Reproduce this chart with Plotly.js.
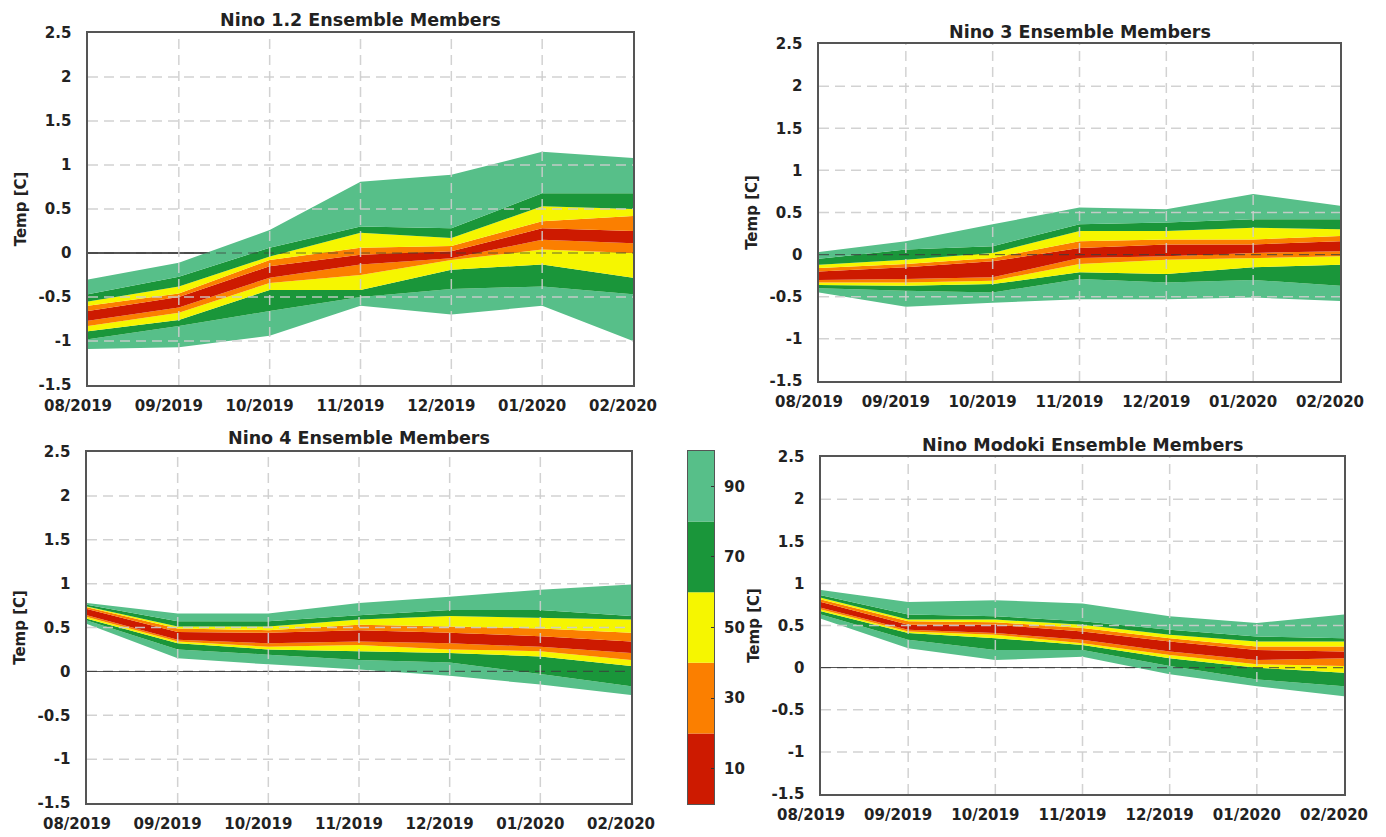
<!DOCTYPE html>
<html>
<head>
<meta charset="utf-8">
<script src="https://cdn.plot.ly/plotly-3.0.1.min.js"></script>
<style>html,body{margin:0;padding:0;background:#fff;}#chart{width:1386px;height:837px;}</style>
</head>
<body>
<div id="chart"></div>
<script>
// ---------- data ----------
const months = ['08/2019','09/2019','10/2019','11/2019','12/2019','01/2020','02/2020'];
const yTickVals = [-1.5,-1,-0.5,0,0.5,1,1.5,2,2.5];
const yTickText = ['-1.5','-1','-0.5','0','0.5','1','1.5','2','2.5'];
const panelTitles = ['Nino 1.2 Ensemble Members','Nino 3 Ensemble Members','Nino 4 Ensemble Members','Nino Modoki Ensemble Members'];

// Nino 1.2 percentile bounds
const n12_p0   = [-1.09,-1.07,-0.94,-0.60,-0.70,-0.60,-1.00];
const n12_p10  = [-0.98,-0.83,-0.66,-0.50,-0.41,-0.38,-0.47];
const n12_p20  = [-0.89,-0.76,-0.42,-0.42,-0.19,-0.13,-0.28];
const n12_p30  = [-0.83,-0.68,-0.34,-0.25,-0.08, 0.04, 0.00];
const n12_p40  = [-0.77,-0.62,-0.28,-0.13,-0.06, 0.15, 0.11];
const n12_p60  = [-0.66,-0.50,-0.15,-0.02, 0.02, 0.28, 0.25];
const n12_p70  = [-0.60,-0.46,-0.08, 0.06, 0.08, 0.36, 0.42];
const n12_p80  = [-0.55,-0.38,-0.04, 0.23, 0.17, 0.53, 0.50];
const n12_p90  = [-0.47,-0.27, 0.06, 0.30, 0.28, 0.68, 0.68];
const n12_p100 = [-0.30,-0.11, 0.26, 0.81, 0.89, 1.15, 1.08];

// Nino 3
const n3_p0   = [-0.45,-0.62,-0.57,-0.53,-0.53,-0.51,-0.55];
const n3_p10  = [-0.40,-0.43,-0.45,-0.29,-0.33,-0.30,-0.37];
const n3_p20  = [-0.36,-0.37,-0.35,-0.21,-0.23,-0.15,-0.12];
const n3_p30  = [-0.33,-0.33,-0.31,-0.11,-0.06,-0.04,-0.02];
const n3_p40  = [-0.30,-0.29,-0.27,-0.04,-0.02, 0.02, 0.04];
const n3_p60  = [-0.20,-0.15,-0.08, 0.08, 0.12, 0.12, 0.16];
const n3_p70  = [-0.16,-0.11,-0.04, 0.16, 0.18, 0.18, 0.22];
const n3_p80  = [-0.12,-0.06, 0.02, 0.28, 0.28, 0.32, 0.30];
const n3_p90  = [-0.05, 0.06, 0.10, 0.36, 0.38, 0.42, 0.42];
const n3_p100 = [ 0.03, 0.16, 0.36, 0.56, 0.54, 0.72, 0.58];

// Nino 4
const n4_p0   = [0.54, 0.15, 0.08, 0.02,-0.05,-0.15,-0.27];
const n4_p10  = [0.58, 0.25, 0.19, 0.13, 0.10,-0.03,-0.17];
const n4_p20  = [0.60, 0.32, 0.25, 0.23, 0.21, 0.17, 0.06];
const n4_p30  = [0.62, 0.34, 0.28, 0.30, 0.25, 0.23, 0.13];
const n4_p40  = [0.64, 0.36, 0.32, 0.34, 0.32, 0.28, 0.21];
const n4_p60  = [0.71, 0.45, 0.44, 0.47, 0.44, 0.40, 0.34];
const n4_p70  = [0.73, 0.49, 0.47, 0.53, 0.51, 0.49, 0.44];
const n4_p80  = [0.74, 0.51, 0.51, 0.59, 0.63, 0.61, 0.59];
const n4_p90  = [0.76, 0.57, 0.57, 0.64, 0.70, 0.70, 0.63];
const n4_p100 = [0.78, 0.66, 0.66, 0.78, 0.85, 0.93, 0.99];

// Nino Modoki
const nm_p0   = [0.58, 0.23, 0.09, 0.13,-0.08,-0.22,-0.34];
const nm_p10  = [0.63, 0.33, 0.21, 0.21, 0.02,-0.14,-0.22];
const nm_p20  = [0.67, 0.41, 0.35, 0.27, 0.11, 0.00,-0.06];
const nm_p30  = [0.69, 0.43, 0.39, 0.29, 0.15, 0.04, 0.02];
const nm_p40  = [0.71, 0.45, 0.41, 0.33, 0.19, 0.09, 0.11];
const nm_p60  = [0.78, 0.51, 0.51, 0.43, 0.31, 0.21, 0.19];
const nm_p70  = [0.81, 0.55, 0.54, 0.47, 0.35, 0.25, 0.25];
const nm_p80  = [0.83, 0.57, 0.57, 0.51, 0.39, 0.31, 0.31];
const nm_p90  = [0.86, 0.63, 0.61, 0.55, 0.45, 0.37, 0.35];
const nm_p100 = [0.92, 0.78, 0.80, 0.76, 0.61, 0.53, 0.63];

// colour bar
const cbEdges  = [0, 20, 40, 60, 80, 100];
const cbLevels = [10, 30, 50, 70, 90];
const cbLabels = ['10', '30', '50', '70', '90'];

// ---------- styles ----------
const C_LG = '#57bf89', C_DG = '#1a963a', C_Y = '#f6f600', C_O = '#fb7f00', C_R = '#cd1a00';
const bandColors = [C_LG, C_DG, C_Y, C_O, C_R, C_O, C_Y, C_DG, C_LG];
const cbColors = [C_R, C_O, C_Y, C_DG, C_LG];
const FONT = 'DejaVu Sans';
const W = 1386, H = 837;
// pixel boxes [left, right, top, bottom]
const boxes = [[88,633,33,385],[819,1340,44,381],[87,631,452,803],[821,1344,457,794]];
const titleY = [20, 32, 438, 445];
const cbBox = [688,714,451,804];

const panels = [
  [n12_p0,n12_p10,n12_p20,n12_p30,n12_p40,n12_p60,n12_p70,n12_p80,n12_p90,n12_p100],
  [n3_p0,n3_p10,n3_p20,n3_p30,n3_p40,n3_p60,n3_p70,n3_p80,n3_p90,n3_p100],
  [n4_p0,n4_p10,n4_p20,n4_p30,n4_p40,n4_p60,n4_p70,n4_p80,n4_p90,n4_p100],
  [nm_p0,nm_p10,nm_p20,nm_p30,nm_p40,nm_p60,nm_p70,nm_p80,nm_p90,nm_p100]
];

const traces = [];
const shapes = [];
const annotations = [];
const layout = {
  width: W, height: H,
  margin: {l:0, r:0, t:0, b:0},
  paper_bgcolor: '#fff', plot_bgcolor: '#fff',
  showlegend: false,
  font: {family: FONT, size: 15, color: '#222', weight: 'bold'}
};

panels.forEach((bounds, i) => {
  const n = i + 1;
  const xa = 'x' + (n === 1 ? '' : n), ya = 'y' + (n === 1 ? '' : n);
  const b = boxes[i];
  bounds.forEach((arr, k) => {
    traces.push({
      type: 'scatter', mode: 'lines', x: months, y: arr,
      xaxis: xa, yaxis: ya,
      line: {width: 0, color: 'rgba(0,0,0,0)'},
      fill: k === 0 ? 'none' : 'tonexty',
      fillcolor: k === 0 ? undefined : bandColors[k - 1],
      hoverinfo: 'skip'
    });
  });
  layout['xaxis' + (n === 1 ? '' : n)] = {
    domain: [b[0] / W, b[1] / W], anchor: ya,
    type: 'category', range: [0, months.length - 1],
    tickvals: months, ticktext: months,
    showgrid: false, zeroline: false,
    showline: true, mirror: true, linecolor: '#555', linewidth: 1.6,
    ticks: '', ticklabelstandoff: 6, ticklabelshift: -10,
    tickfont: {family: FONT, size: 15, color: '#222', weight: 'bold'}
  };
  layout['yaxis' + (n === 1 ? '' : n)] = {
    domain: [1 - b[3] / H, 1 - b[2] / H], anchor: xa,
    range: [-1.5, 2.5], tickvals: yTickVals, ticktext: yTickText,
    showgrid: false, zeroline: true, zerolinecolor: '#555', zerolinewidth: 1.2,
    showline: true, mirror: true, linecolor: '#555', linewidth: 1.6,
    ticks: '', ticklabelstandoff: 12,
    tickfont: {family: FONT, size: 15, color: '#222', weight: 'bold'},
    title: {text: 'Temp [C]', standoff: 8, font: {family: FONT, size: 15, color: '#222', weight: 'bold'}}
  };
  // dashed grid lines above the fills
  yTickVals.forEach(v => {
    if (v === yTickVals[0] || v === yTickVals[yTickVals.length - 1]) return;
    shapes.push({
      type: 'line', layer: 'above', xref: xa + ' domain', yref: ya,
      x0: 0, x1: 1, y0: v, y1: v,
      line: {color: v === 0 ? 'rgba(60,60,60,0.75)' : 'rgba(205,205,205,0.9)', width: v === 0 ? 1.2 : 1.5, dash: '10px,6px'}
    });
  });
  months.forEach((m, k) => {
    if (k === 0 || k === months.length - 1) return;
    shapes.push({
      type: 'line', layer: 'above', xref: xa, yref: ya + ' domain',
      x0: m, x1: m, y0: 0, y1: 1,
      line: {color: 'rgba(205,205,205,0.9)', width: 1.5, dash: '10px,6px'}
    });
  });
  annotations.push({
    text: panelTitles[i], showarrow: false,
    xref: xa + ' domain', x: 0.5, xanchor: 'center',
    yref: 'paper', y: 1 - titleY[i] / H, yanchor: 'middle',
    font: {family: FONT, size: 17.5, color: '#222', weight: 'bold'}
  });
});

// colour bar as stacked bar segments on its own axis
traces.push({
  type: 'bar', xaxis: 'x5', yaxis: 'y5',
  x: cbLevels.map(() => 0),
  y: cbEdges.slice(1).map((e, k) => e - cbEdges[k]),
  base: cbEdges.slice(0, -1),
  width: 1,
  marker: {color: cbColors, line: {width: 0}},
  hoverinfo: 'skip'
});
layout.xaxis5 = {
  domain: [cbBox[0] / W, cbBox[1] / W], anchor: 'y5', range: [-0.5, 0.5],
  showticklabels: false, ticks: '', showgrid: false, zeroline: false,
  showline: true, mirror: true, linecolor: '#555', linewidth: 1, fixedrange: true
};
layout.yaxis5 = {
  domain: [1 - cbBox[3] / H, 1 - cbBox[2] / H], anchor: 'x5', side: 'right',
  range: [0, 100], tickvals: cbLevels, ticktext: cbLabels,
  ticks: 'inside', ticklen: 3, tickcolor: '#333', ticklabelstandoff: 6,
  showgrid: false, zeroline: false,
  showline: true, mirror: true, linecolor: '#555', linewidth: 1,
  tickfont: {family: FONT, size: 15, color: '#222', weight: 'bold'}
};
layout.shapes = shapes;
layout.annotations = annotations;

Plotly.newPlot('chart', traces, layout, {staticPlot: true, displayModeBar: false});
</script>
</body>
</html>
